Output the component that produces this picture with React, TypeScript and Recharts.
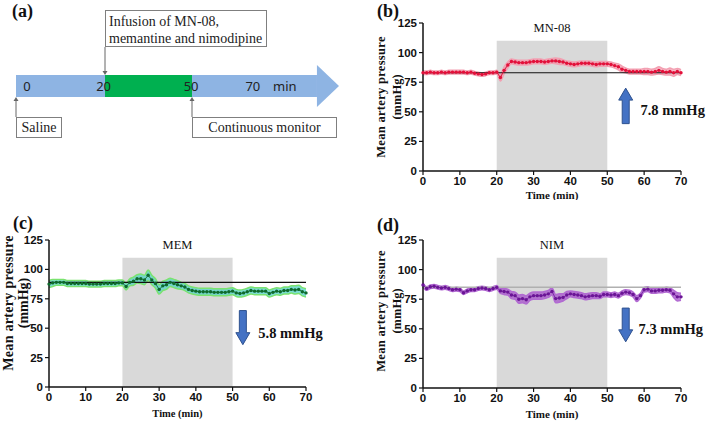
import { Area, ComposedChart, Line, ReferenceArea, ReferenceDot, ReferenceLine, Scatter, XAxis, YAxis } from "recharts";

// minutes sampled, 0..70
const minutes = [
  0, 1, 2, 3, 4, 5, 6, 7, 8, 9, 10, 11, 12, 13, 14, 15, 16, 17, 18, 19, 20, 21, 22, 23, 24, 25, 26, 27, 28, 29, 30, 31, 32, 33, 34, 35,
  36, 37, 38, 39, 40, 41, 42, 43, 44, 45, 46, 47, 48, 49, 50, 51, 52, 53, 54, 55, 56, 57, 58, 59, 60, 61, 62, 63, 64, 65, 66, 67, 68, 69, 70,
];

const mn08Mean = [
  83, 83, 83.5, 83, 83, 83.5, 83, 83.5, 83.5, 83.5,
  83.5, 83.5, 83, 83.5, 82.5, 82, 81.5, 82, 83, 83,
  83.5, 79, 85, 89.5, 92.5, 92, 91.5, 91.5, 91.5, 92,
  92.5, 92.5, 92.5, 92, 92.5, 93, 93, 92.5, 92, 91,
  90.5, 90, 90.5, 91, 91, 91, 90.5, 90, 90.5, 90.5,
  90.5, 90, 89, 88, 86, 85, 84, 84, 84, 84,
  84, 84, 83.5, 84, 85, 84, 83.5, 84, 83, 84, 83,
];
const mn08Sem = [
  1.5, 1.5, 1.5, 1.5, 1.5, 1.5, 1.5, 1.5, 1.5, 1.5,
  1.5, 1.5, 1.5, 1.5, 1.5, 1.5, 1.5, 1.5, 1.5, 1.5,
  1.5, 3, 3, 2.5, 2, 2, 2, 2, 2, 2,
  2, 2, 2, 2, 2, 2, 2.5, 2.5, 2, 2,
  2, 2, 2, 2, 2, 2, 2, 2, 2, 2,
  2, 2, 2, 2.5, 2.5, 2, 2, 2, 2, 2,
  2.5, 2.5, 2.5, 2.5, 3, 2.5, 2.5, 3, 3, 2.5, 2.5,
];

const memMean = [
  87.5, 88.5, 89, 89, 89, 88, 88, 88, 88, 88,
  88, 87.5, 87.5, 87.5, 87.5, 88, 88, 88, 88, 88.5,
  88.5, 85.5, 89, 90, 92, 92, 91, 95, 91, 88,
  83, 86, 87, 89, 88, 87, 86, 85, 83, 82,
  81.5, 81, 81, 81, 81, 80.5, 80.5, 80.5, 80.5, 81,
  81.5, 80, 79.5, 80, 81, 82, 81.5, 81.5, 81.5, 81.5,
  79.5, 80.5, 81.5, 81, 82, 82, 83, 82.5, 83, 81, 80,
];
const memSem = [
  3, 3, 2.5, 2.5, 2.5, 2.5, 2.5, 2.5, 2.5, 2.5,
  2.5, 2.5, 2.5, 2.5, 2.5, 2.5, 2.5, 2.5, 2.5, 2.5,
  2.5, 3, 3, 3.5, 3.5, 4, 4, 4.5, 4, 4,
  4, 4, 4, 3.5, 3.5, 3.5, 3, 3, 3, 3,
  3, 3, 3, 3, 3, 3, 3, 3, 3, 3,
  3, 3, 3, 3, 3, 3, 3, 3, 3, 3,
  3, 3, 3, 3, 3, 3, 3, 3.5, 3.5, 3.5, 3.5,
];

const nimMean = [
  87, 84, 85.5, 86, 85, 84.5, 85, 84, 83, 83.5,
  83, 80.5, 82, 83, 83, 84, 84.5, 84, 83, 84,
  85, 82, 81.5, 81, 78.5, 78, 75, 75.5, 74.5, 77,
  78, 78, 78, 78.5, 79.5, 81.5, 75.5, 76, 76.5, 78.5,
  79.5, 79, 78.5, 78, 77, 77.5, 78, 78, 77.5, 79,
  79, 78.5, 79, 78, 80, 81, 80.5, 79, 75.5, 78,
  83, 83.5, 82, 82, 82.5, 82.5, 83, 82.5, 79.5, 77, 77,
];
const nimSem = [
  1.5, 1.5, 1.5, 1.5, 1.5, 1.5, 1.5, 1.5, 1.5, 1.5,
  1.5, 1.5, 1.5, 1.5, 1.5, 1.5, 1.5, 1.5, 1.5, 1.5,
  1.5, 2, 2.5, 2.5, 3, 3, 3.5, 3.5, 3.5, 3,
  3, 3, 3, 3, 3, 3, 3.5, 3.5, 3, 3,
  2.5, 2.5, 2.5, 2.5, 2.5, 2.5, 2.5, 2.5, 2, 2,
  2, 2, 2, 2, 2, 2, 2, 2, 2.5, 2,
  2, 2, 2, 2, 2, 2, 2, 2, 3, 3.5, 3,
];

const xTicks = [0, 10, 20, 30, 40, 50, 60, 70];
const yTicks = [0, 25, 50, 75, 100, 125];

// timeline (panel a), in minutes
const timelineLabels = [
  { t: -6.9, y: 21, text: "0" },
  { t: 19.5, y: 21, text: "20" },
  { t: 49.7, y: 21, text: "50" },
  { t: 71, y: 21, text: "70" },
  { t: 82, y: 21, text: "min" },
];

const SERIF = "'Liberation Serif', 'Times New Roman', serif";
const SANS = "'Liberation Sans', Arial, sans-serif";

function rows(mean: number[], sem: number[]) {
  return minutes.map((t, i) => ({ t, mean: mean[i], band: [mean[i] - sem[i], mean[i] + sem[i]] }));
}

function BlockArrow(props: any) {
  const { x, y, width, height, dir } = props;
  const cx = x + width / 2;
  const sw = 3.5;
  const hw = 7;
  const hl = 12;
  let pts: string;
  if (dir === "up") {
    pts = `${cx},${y} ${cx + hw},${y + hl} ${cx + sw},${y + hl} ${cx + sw},${y + height} ${cx - sw},${y + height} ${cx - sw},${y + hl} ${cx - hw},${y + hl}`;
  } else {
    const b = y + height;
    pts = `${cx},${b} ${cx + hw},${b - hl} ${cx + sw},${b - hl} ${cx + sw},${y} ${cx - sw},${y} ${cx - sw},${b - hl} ${cx - hw},${b - hl}`;
  }
  return <polygon points={pts} fill="#4472c4" stroke="#2f528f" strokeWidth={1} />;
}

type PanelProps = {
  width: number;
  height: number;
  margin: { top: number; right: number; bottom: number; left: number };
  xAxisHeight: number;
  mean: number[];
  sem: number[];
  title: string;
  baseline: number;
  baselineColor: string;
  baselineWidth: number;
  bandFill: string;
  bandOpacity: number;
  bandStroke: string;
  lineColor: string;
  dotColor: string;
  arrowDir: "up" | "down";
  arrowY: [number, number];
  arrowX: number;
  note: string;
  noteAt: [number, number];
  timeSize: number;
};

function MapPanel(p: PanelProps) {
  const data = rows(p.mean, p.sem);
  const tick = { fill: "#111", fontFamily: SANS, fontWeight: 700, fontSize: 11.5 };
  return (
    <ComposedChart width={p.width} height={p.height} data={data} margin={p.margin} style={{ overflow: "visible" }}>
      <ReferenceArea
        x1={20}
        x2={50}
        y1={0}
        y2={110}
        fill="#d9d9d9"
        fillOpacity={1}
        stroke="none"
        label={{ value: p.title, position: "top", offset: 9, fill: "#111", fontFamily: SERIF, fontSize: 12.5 }}
      />
      <XAxis
        dataKey="t"
        type="number"
        domain={[0, 70]}
        ticks={xTicks}
        tick={tick}
        tickSize={4}
        height={p.xAxisHeight}
        axisLine={{ stroke: "#111", strokeWidth: 1.5 }}
        tickLine={{ stroke: "#111", strokeWidth: 1.2 }}
        label={{ value: "Time (min)", position: "insideBottom", offset: 0, fill: "#111", fontFamily: SERIF, fontWeight: 700, fontSize: p.timeSize }}
      />
      <YAxis
        type="number"
        domain={[0, 125]}
        ticks={yTicks}
        tick={tick}
        tickSize={4}
        width={35}
        axisLine={{ stroke: "#111", strokeWidth: 1.5 }}
        tickLine={{ stroke: "#111", strokeWidth: 1.2 }}
      />
      <Area
        dataKey="band"
        type="monotone"
        fill={p.bandFill}
        fillOpacity={p.bandOpacity}
        stroke={p.bandStroke}
        strokeWidth={1.5}
        isAnimationActive={false}
      />
      <ReferenceLine y={p.baseline} stroke={p.baselineColor} strokeWidth={p.baselineWidth} />
      <Line
        dataKey="mean"
        type="linear"
        stroke={p.lineColor}
        strokeWidth={1}
        dot={{ r: 1.7, fill: p.dotColor, stroke: "none" }}
        isAnimationActive={false}
      />
      <ReferenceArea
        x1={p.arrowX - 1}
        x2={p.arrowX + 1}
        y1={p.arrowY[0]}
        y2={p.arrowY[1]}
        shape={(s: any) => <BlockArrow {...s} dir={p.arrowDir} />}
      />
      <ReferenceDot
        x={p.noteAt[0]}
        y={p.noteAt[1]}
        r={0}
        shape={(s: any) => (
          <text x={s.cx} y={s.cy} dominantBaseline="central" fill="#111" fontFamily={SERIF} fontWeight={700} fontSize={14.5}>
            {p.note}
          </text>
        )}
      />
    </ComposedChart>
  );
}

function Timeline() {
  return (
    <ComposedChart width={323} height={42} margin={{ top: 0, right: 0, bottom: 0, left: 0 }} data={timelineLabels}>
      <XAxis dataKey="t" type="number" domain={[-10.7, 100.7]} hide allowDataOverflow />
      <YAxis dataKey="y" type="number" domain={[0, 42]} hide />
      <ReferenceArea x1={-10.7} x2={93.1} y1={10} y2={32} fill="#8eb4e3" fillOpacity={1} stroke="none" />
      <ReferenceArea
        x1={93.1}
        x2={100.7}
        y1={0}
        y2={42}
        shape={(s: any) => (
          <polygon points={`${s.x},${s.y} ${s.x + s.width},${s.y + s.height / 2} ${s.x},${s.y + s.height}`} fill="#8eb4e3" />
        )}
      />
      <ReferenceArea x1={20} x2={50} y1={10} y2={32} fill="#00b050" fillOpacity={1} stroke="none" />
      <Scatter
        dataKey="y"
        isAnimationActive={false}
        shape={(s: any) => (
          <text x={s.cx} y={s.cy} textAnchor="middle" dominantBaseline="central" fill="#222" fontFamily="'Noto Sans', sans-serif" fontSize={13}>
            {s.payload.text}
          </text>
        )}
      />
    </ComposedChart>
  );
}

const boxStyle: React.CSSProperties = {
  position: "absolute",
  border: "1px solid #7f7f7f",
  boxSizing: "border-box",
  fontFamily: SERIF,
  fontSize: 14,
  color: "#222",
  background: "#fff",
};

function YLabel({ cx, cy, size, gap }: { cx: number; cy: number; size: number; gap: number }) {
  return (
    <g fontFamily={SERIF} fontWeight={700} fontSize={size} fill="#111" textAnchor="middle">
      <text transform={`translate(${cx},${cy}) rotate(-90)`} dominantBaseline="central" letterSpacing={0.3}>
        Mean artery pressure
      </text>
      <text transform={`translate(${cx + gap},${cy}) rotate(-90)`} dominantBaseline="central">
        (mmHg)
      </text>
    </g>
  );
}

export default function App() {
  return (
    <div style={{ position: "absolute", left: 0, top: 0, width: 709, height: 422, background: "#fff", overflow: "hidden" }}>
      {/* (a) timeline */}
      <div style={{ position: "absolute", left: 16, top: 65 }}>
        <Timeline />
      </div>
      <div style={{ ...boxStyle, left: 105, top: 10, width: 162, height: 37, padding: "2px 0 0 3px", lineHeight: "17px" }}>
        Infusion of MN-08,
        <br />
        memantine and nimodipine
      </div>
      <div style={{ ...boxStyle, left: 16, top: 117, width: 46, height: 21, lineHeight: "19px", textAlign: "center" }}>Saline</div>
      <div style={{ ...boxStyle, left: 192, top: 117, width: 145, height: 21, lineHeight: "19px", textAlign: "center" }}>
        Continuous monitor
      </div>

      <div style={{ position: "absolute", left: 360, top: 0 }}>
        <MapPanel
          width={349}
          height={200}
          margin={{ top: 23, right: 28, bottom: 1, left: 28 }}
          xAxisHeight={28}
          mean={mn08Mean}
          sem={mn08Sem}
          title="MN-08"
          baseline={83}
          baselineColor="#111"
          baselineWidth={1.2}
          bandFill="#f07590"
          bandOpacity={0.5}
          bandStroke="#f3a0b2"
          lineColor="#e3103a"
          dotColor="#e3103a"
          arrowDir="up"
          arrowX={55}
          arrowY={[40, 70]}
          note="7.8 mmHg"
          noteAt={[59, 51.5]}
          timeSize={11}
        />
      </div>
      <div style={{ position: "absolute", left: 0, top: 200 }}>
        <MapPanel
          width={360}
          height={222}
          margin={{ top: 40, right: 54, bottom: 5, left: 14 }}
          xAxisHeight={30}
          mean={memMean}
          sem={memSem}
          title="MEM"
          baseline={89}
          baselineColor="#111"
          baselineWidth={1.2}
          bandFill="#4fd1c5"
          bandOpacity={0.75}
          bandStroke="#7be36f"
          lineColor="#1d7a3a"
          dotColor="#0e6b2c"
          arrowDir="down"
          arrowX={52.8}
          arrowY={[36, 65]}
          note="5.8 mmHg"
          noteAt={[57, 46]}
          timeSize={10.5}
        />
      </div>
      <div style={{ position: "absolute", left: 360, top: 200 }}>
        <MapPanel
          width={349}
          height={222}
          margin={{ top: 40, right: 28, bottom: 4, left: 28 }}
          xAxisHeight={30}
          mean={nimMean}
          sem={nimSem}
          title="NIM"
          baseline={85}
          baselineColor="#b0b0b0"
          baselineWidth={1.5}
          bandFill="#a453c9"
          bandOpacity={0.75}
          bandStroke="#b26ad2"
          lineColor="#7a2aa6"
          dotColor="#6b1596"
          arrowDir="down"
          arrowX={55}
          arrowY={[39, 67.5]}
          note="7.3 mmHg"
          noteAt={[58.5, 50]}
          timeSize={11}
        />
      </div>

      <svg width={709} height={422} style={{ position: "absolute", left: 0, top: 0, pointerEvents: "none" }}>
        {/* callout arrows of panel a */}
        <g stroke="#666" strokeWidth={1} fill="#666">
          <line x1={105} y1={47} x2={105} y2={73} />
          <polygon points="102.5,71 107.5,71 105,75" stroke="none" />
          <line x1={16} y1={117} x2={16} y2={99} />
          <polygon points="13.5,101 18.5,101 16,97" stroke="none" />
          <line x1={192} y1={117} x2={192} y2={99} />
          <polygon points="189.5,101 194.5,101 192,97" stroke="none" />
        </g>
        <g fontFamily={SERIF} fontWeight={700} fontSize={18} fill="#111" dominantBaseline="central">
          <text x={12} y={11}>(a)</text>
          <text x={377} y={11}>(b)</text>
          <text x={13} y={223}>(c)</text>
          <text x={377} y={225}>(d)</text>
        </g>
        <YLabel cx={381} cy={97} size={12.5} gap={15.5} />
        <YLabel cx={8} cy={303} size={14} gap={15.5} />
        <YLabel cx={381} cy={311} size={12.5} gap={15.5} />
      </svg>
    </div>
  );
}
